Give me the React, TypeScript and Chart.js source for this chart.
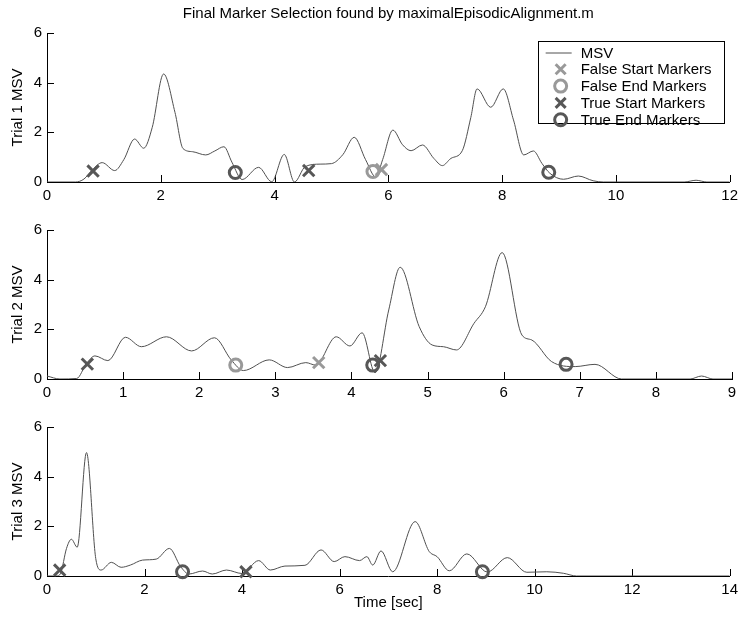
import React, { useEffect, useRef } from 'react';
import { Chart, registerables } from 'chart.js';
Chart.register(...registerables);

const FONT = '"Liberation Sans", Arial, Helvetica, sans-serif';

const TITLE = 'Final Marker Selection found by maximalEpisodicAlignment.m';
const X_TITLE = 'Time [sec]';
const Y_TITLES = ['Trial 1 MSV', 'Trial 2 MSV', 'Trial 3 MSV'];
const X_MAX = [12, 9, 14];
const X_STEP = [2, 1, 2];
const Y_MAX = 6;
const Y_STEP = 2;

const LEGEND_LABELS = ['MSV', 'False Start Markers', 'False End Markers', 'True Start Markers', 'True End Markers'];

// Trial 1 MSV curve
const T1_X = [0, 0.5, 0.65, 0.8, 0.97, 1.19, 1.35, 1.54, 1.70, 1.85, 2.05, 2.25, 2.39, 2.56, 2.79, 2.95, 3.11, 3.25, 3.43, 3.72, 3.95, 4.17, 4.35, 4.54, 4.80, 5.0, 5.2, 5.40, 5.60, 5.78, 5.90, 6.08, 6.25, 6.40, 6.60, 6.80, 6.95, 7.10, 7.30, 7.45, 7.56, 7.80, 8.02, 8.2, 8.38, 8.55, 8.70, 8.84, 9.08, 9.34, 9.6, 9.78, 11.2, 11.41, 11.6, 12];
const T1_Y = [0, 0, 0.12, 0.5, 0.78, 0.46, 0.9, 1.73, 1.36, 2.2, 4.35, 2.8, 1.35, 1.22, 1.09, 1.25, 1.42, 0.8, 0.1, 0.59, 0.01, 1.11, 0.0, 0.62, 0.72, 0.74, 1.1, 1.80, 0.9, 0.2, 0.9, 2.09, 1.5, 1.26, 1.49, 0.95, 0.66, 0.95, 1.26, 2.6, 3.75, 3.01, 3.75, 2.5, 1.09, 1.25, 0.75, 0.35, 0.11, 0.24, 0.05, 0, 0, 0.07, 0, 0];

// Trial 2 MSV curve
const T2_X = [0, 0.17, 0.39, 0.52, 0.63, 0.80, 1.03, 1.24, 1.57, 1.90, 2.20, 2.42, 2.58, 2.92, 3.16, 3.40, 3.53, 3.80, 3.98, 4.14, 4.31, 4.49, 4.64, 4.89, 5.06, 5.21, 5.38, 5.61, 5.76, 5.98, 6.24, 6.37, 6.63, 6.94, 7.20, 7.55, 8.45, 8.60, 8.75, 9];
const T2_Y = [0.12, 0, 0.02, 0.63, 0.93, 0.74, 1.68, 1.30, 1.70, 1.13, 1.66, 0.77, 0.34, 0.77, 0.46, 0.66, 0.56, 1.70, 1.33, 1.86, 0.25, 2.78, 4.50, 2.11, 1.37, 1.30, 1.17, 2.24, 2.91, 5.09, 1.77, 1.57, 0.70, 0.50, 0.59, 0, 0, 0.12, 0, 0];

// Trial 3 MSV curve
const T3_X = [0, 0.2, 0.28, 0.40, 0.50, 0.62, 0.81, 1.0, 1.11, 1.32, 1.52, 1.71, 1.96, 2.24, 2.51, 2.74, 2.91, 3.19, 3.39, 3.68, 4.0, 4.34, 4.58, 4.88, 5.29, 5.62, 5.89, 6.11, 6.41, 6.56, 6.68, 6.85, 7.09, 7.55, 7.84, 8.0, 8.25, 8.61, 9.03, 9.44, 9.84, 10.25, 10.59, 10.86, 14];
const T3_Y = [0, 0, 0.11, 1.11, 1.48, 1.16, 4.97, 0.7, 0.24, 0.55, 0.35, 0.44, 0.64, 0.68, 1.11, 0.38, 0.08, 0.2, 0.08, 0.24, 0.1, 0.62, 0.24, 0.40, 0.43, 1.05, 0.58, 0.78, 0.62, 0.78, 0.44, 1.01, 0.17, 2.19, 0.98, 0.78, 0.21, 0.89, 0.16, 0.74, 0.15, 0.17, 0.11, 0, 0];

// Markers: [trial1, trial2, trial3]
const FALSE_START_X = [[5.88], [3.57], []];
const FALSE_START_Y = [[0.5], [0.66], []];
const FALSE_END_X = [[5.73], [2.48], []];
const FALSE_END_Y = [[0.42], [0.56], []];
const TRUE_START_X = [[0.81, 4.60], [0.53, 4.38], [0.26, 4.08]];
const TRUE_START_Y = [[0.44, 0.46], [0.60, 0.74], [0.24, 0.17]];
const TRUE_END_X = [[3.31, 8.82], [4.28, 6.82], [2.78, 8.93]];
const TRUE_END_Y = [[0.38, 0.39], [0.56, 0.59], [0.17, 0.17]];

const CURVES_X = [T1_X, T2_X, T3_X];
const CURVES_Y = [T1_Y, T2_Y, T3_Y];

const LINE_COLOR = '#505050';
const FALSE_COLOR = '#999999';
const TRUE_COLOR = '#575757';

function pts(xs: number[], ys: number[]) {
  return xs.map((x, i) => ({ x, y: ys[i] }));
}

const inwardTicks = {
  id: 'inwardTicks',
  beforeDatasetsDraw(chart: any) {
    const { ctx, chartArea } = chart;
    const { left, bottom } = chartArea;
    const xs = chart.scales.x;
    const ys = chart.scales.y;
    const len = 7;
    ctx.save();
    ctx.strokeStyle = '#000';
    ctx.lineWidth = 1;
    ctx.beginPath();
    ys.ticks.forEach((t: any) => {
      const py = Math.round(ys.getPixelForValue(t.value)) + 0.5;
      ctx.moveTo(left, py);
      ctx.lineTo(left + len, py);
    });
    xs.ticks.forEach((t: any) => {
      const px = Math.round(xs.getPixelForValue(t.value)) + 0.5;
      ctx.moveTo(px, bottom);
      ctx.lineTo(px, bottom - len);
    });
    ctx.stroke();
    ctx.restore();
  },
};

function drawX(ctx: CanvasRenderingContext2D, x: number, y: number, r: number, color: string) {
  ctx.save();
  ctx.strokeStyle = color;
  ctx.lineWidth = 3;
  ctx.beginPath();
  ctx.moveTo(x - r, y - r);
  ctx.lineTo(x + r, y + r);
  ctx.moveTo(x + r, y - r);
  ctx.lineTo(x - r, y + r);
  ctx.stroke();
  ctx.restore();
}

function drawO(ctx: CanvasRenderingContext2D, x: number, y: number, r: number, color: string) {
  ctx.save();
  ctx.strokeStyle = color;
  ctx.lineWidth = 3;
  ctx.beginPath();
  ctx.arc(x, y, r, 0, Math.PI * 2);
  ctx.stroke();
  ctx.restore();
}

const legendPlugin = {
  id: 'matlabLegend',
  afterDraw(chart: any) {
    const { ctx, chartArea } = chart;
    const right = chartArea.right - 6;
    const top = chartArea.top + 8;
    const w = 186;
    const h = 82;
    const left = right - w;
    ctx.save();
    ctx.fillStyle = '#fff';
    ctx.fillRect(left, top, w, h);
    ctx.strokeStyle = '#000';
    ctx.lineWidth = 1;
    ctx.strokeRect(Math.round(left) + 0.5, Math.round(top) + 0.5, w, h);
    ctx.font = '15px ' + FONT;
    ctx.fillStyle = '#000';
    ctx.textBaseline = 'middle';
    ctx.textAlign = 'left';
    const rowH = 16.8;
    LEGEND_LABELS.forEach((lab, i) => {
      const cy = top + 11.5 + i * rowH;
      const mx = left + 23;
      if (i === 0) {
        ctx.strokeStyle = LINE_COLOR;
        ctx.lineWidth = 1;
        ctx.beginPath();
        ctx.moveTo(left + 8, cy + 0.5);
        ctx.lineTo(left + 34, cy + 0.5);
        ctx.stroke();
      } else if (i === 1) drawX(ctx, mx, cy, 5, FALSE_COLOR);
      else if (i === 2) drawO(ctx, mx, cy, 6, FALSE_COLOR);
      else if (i === 3) drawX(ctx, mx, cy, 5, TRUE_COLOR);
      else drawO(ctx, mx, cy, 6, TRUE_COLOR);
      ctx.fillStyle = '#000';
      ctx.fillText(lab, left + 43, cy + 1);
    });
    ctx.restore();
  },
};

function makeConfig(i: number): any {
  const isFirst = i === 0;
  const isLast = i === 2;
  const canvasH = isLast ? 224 : 205;
  const markerBase = { showLine: false, clip: false as any, pointHoverRadius: 7 };
  return {
    type: 'line',
    data: {
      datasets: [
        {
          label: LEGEND_LABELS[0],
          data: pts(CURVES_X[i], CURVES_Y[i]),
          borderColor: LINE_COLOR,
          borderWidth: 1,
          pointRadius: 0,
          cubicInterpolationMode: 'monotone',
          fill: false,
          order: 5,
        },
        {
          ...markerBase,
          label: LEGEND_LABELS[1],
          data: pts(FALSE_START_X[i], FALSE_START_Y[i]),
          pointStyle: 'crossRot',
          pointRadius: 8,
          pointBorderWidth: 3,
          pointBorderColor: FALSE_COLOR,
          borderColor: FALSE_COLOR,
          order: 4,
        },
        {
          ...markerBase,
          label: LEGEND_LABELS[2],
          data: pts(FALSE_END_X[i], FALSE_END_Y[i]),
          pointStyle: 'circle',
          pointRadius: 6,
          pointBorderWidth: 3,
          pointBorderColor: FALSE_COLOR,
          pointBackgroundColor: 'rgba(0,0,0,0)',
          borderColor: FALSE_COLOR,
          order: 3,
        },
        {
          ...markerBase,
          label: LEGEND_LABELS[3],
          data: pts(TRUE_START_X[i], TRUE_START_Y[i]),
          pointStyle: 'crossRot',
          pointRadius: 8,
          pointBorderWidth: 3,
          pointBorderColor: TRUE_COLOR,
          borderColor: TRUE_COLOR,
          order: 2,
        },
        {
          ...markerBase,
          label: LEGEND_LABELS[4],
          data: pts(TRUE_END_X[i], TRUE_END_Y[i]),
          pointStyle: 'circle',
          pointRadius: 6,
          pointBorderWidth: 3,
          pointBorderColor: TRUE_COLOR,
          pointBackgroundColor: 'rgba(0,0,0,0)',
          borderColor: TRUE_COLOR,
          order: 1,
        },
      ],
    },
    options: {
      responsive: false,
      animation: false,
      devicePixelRatio: 1,
      layout: { padding: { left: 0, right: 9, top: isFirst ? 0 : 33, bottom: 0 } },
      plugins: {
        legend: { display: false },
        tooltip: { enabled: false },
        title: {
          display: isFirst,
          text: TITLE,
          fullSize: false,
          color: '#000',
          font: { family: FONT, size: 15, weight: 'normal' },
          padding: { top: 5, bottom: 10 },
        },
      },
      scales: {
        x: {
          type: 'linear',
          min: 0,
          max: X_MAX[i],
          grid: { display: false, drawTicks: false },
          border: { display: true, color: '#000', width: 1 },
          ticks: {
            stepSize: X_STEP[i],
            color: '#000',
            padding: 5,
            maxRotation: 0,
            font: { family: FONT, size: 15 },
          },
          title: {
            display: isLast,
            text: X_TITLE,
            color: '#000',
            font: { family: FONT, size: 15 },
            padding: { top: 0, bottom: 6 },
          },
          afterFit(scale: any) {
            scale.height = canvasH - 182;
          },
        },
        y: {
          type: 'linear',
          min: 0,
          max: Y_MAX,
          grid: { display: false, drawTicks: false },
          border: { display: true, color: '#000', width: 1 },
          ticks: {
            stepSize: Y_STEP,
            color: '#000',
            padding: 5,
            font: { family: FONT, size: 15 },
          },
          title: {
            display: true,
            text: Y_TITLES[i],
            color: '#000',
            font: { family: FONT, size: 15 },
            padding: { top: 9, bottom: 0 },
          },
          afterFit(scale: any) {
            scale.width = 47;
          },
        },
      },
    },
    plugins: isFirst ? [inwardTicks, legendPlugin] : [inwardTicks],
  };
}

function Panel({ index, top, height }: { index: number; top: number; height: number }) {
  const ref = useRef<HTMLCanvasElement | null>(null);
  useEffect(() => {
    if (!ref.current) return;
    const chart = new Chart(ref.current, makeConfig(index));
    return () => chart.destroy();
  }, [index]);
  return (
    <canvas
      ref={ref}
      width={743}
      height={height}
      style={{ position: 'absolute', left: 0, top, width: 743, height, display: 'block' }}
    />
  );
}

export default function App() {
  return (
    <div style={{ position: 'absolute', left: 0, top: 0, width: 743, height: 618, background: '#fff' }}>
      <Panel index={0} top={0} height={205} />
      <Panel index={1} top={197} height={205} />
      <Panel index={2} top={394} height={224} />
    </div>
  );
}
